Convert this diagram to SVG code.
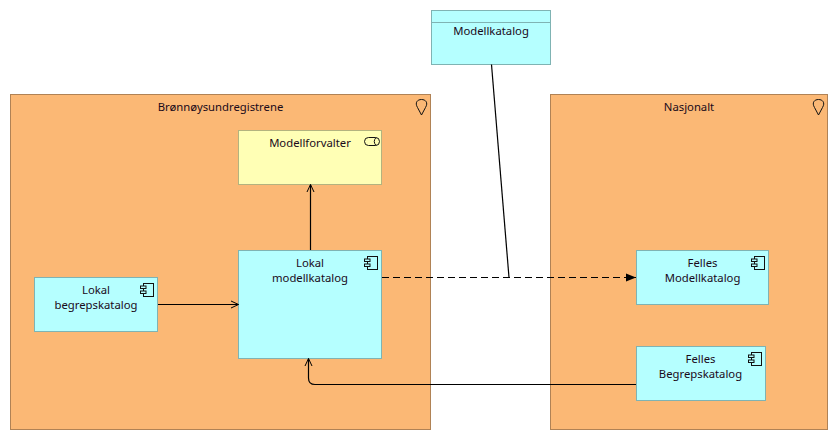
<svg xmlns="http://www.w3.org/2000/svg" width="838" height="440" viewBox="0 0 838 440">
<style>
text{font-family:"Noto Sans","Open Sans","Liberation Sans",sans-serif;font-size:11.3px;fill:#1a0a1a;text-anchor:middle}
.loc{fill:#fbb875;stroke:#b08255;stroke-width:1}
.app{fill:#b5ffff;stroke:#7fb3b3;stroke-width:1}
.biz{fill:#ffffb5;stroke:#b3b37f;stroke-width:1}
.ic{fill:none;stroke:#111;stroke-width:1}
.icf{fill:#b5ffff;stroke:#111;stroke-width:1}
.c{fill:none;stroke:#000;stroke-width:1.2}
</style>
<defs>
<marker id="open" markerUnits="userSpaceOnUse" markerWidth="10" markerHeight="10" refX="8" refY="5" orient="auto"><path d="M0.5 1.500L8 5L0.5 8.500" fill="none" stroke="#000" stroke-width="1"/></marker>
<marker id="fill" markerUnits="userSpaceOnUse" markerWidth="12" markerHeight="10" refX="10" refY="5" orient="auto"><path d="M0 1L10 5L0 9Z" fill="#000"/></marker>
<g id="comp"><rect class="ic" x="3.500" y="0.500" width="10" height="13"/><rect class="icf" x="0.500" y="3" width="5.500" height="2.500"/><rect class="icf" x="0.500" y="8" width="5.500" height="2.500"/></g>
<path id="pin" class="ic" d="M5.500 16L1.500 8.500C-1.500 3.500 1.500 0.500 5.500 0.500C9.500 0.500 12.500 3.500 9.500 8.500Z"/>
</defs>
<g id="brreg"><rect class="loc" x="10.500" y="94.500" width="420" height="335"/><text x="220.500" y="111">Brønnøysundregistrene</text><use href="#pin" x="416" y="99"/></g>
<g id="nasjonalt"><rect class="loc" x="550.500" y="94.500" width="277" height="335"/><text x="689" y="111">Nasjonalt</text><use href="#pin" x="813" y="99"/></g>
<g id="modellkatalog"><rect class="app" x="431.500" y="10.500" width="119" height="54"/><line x1="431.500" y1="22.500" x2="550.500" y2="22.500" stroke="#7fb3b3"/><text x="491" y="35">Modellkatalog</text></g>
<g id="modellforvalter"><rect class="biz" x="238.500" y="130.500" width="143" height="54"/><text x="310" y="147">Modellforvalter</text><rect x="364.500" y="137.500" width="15" height="8" rx="4" fill="none" stroke="#111"/><path class="ic" d="M376 137.500Q372.500 141.500 376 145.500"/></g>
<g id="lokal-modellkatalog"><rect class="app" x="238.500" y="250.500" width="143" height="108"/><text x="310" y="267">Lokal</text><text x="310" y="282">modellkatalog</text><use href="#comp" x="364" y="256"/></g>
<g id="lokal-begrepskatalog"><rect class="app" x="34.500" y="277.500" width="123" height="54"/><text x="96" y="294">Lokal</text><text x="96" y="309">begrepskatalog</text><use href="#comp" x="140" y="283"/></g>
<g id="felles-modellkatalog"><rect class="app" x="636.500" y="250.500" width="132" height="54"/><text x="702.500" y="267">Felles</text><text x="702.500" y="282">Modellkatalog</text><use href="#comp" x="751" y="256"/></g>
<g id="felles-begrepskatalog"><rect class="app" x="636.500" y="346.500" width="129" height="54"/><text x="700.500" y="363">Felles</text><text x="700.500" y="378">Begrepskatalog</text><use href="#comp" x="748" y="352"/></g>
<g id="connectors">
<path class="c" d="M310.500 250V184.500" marker-end="url(#open)"/>
<path class="c" d="M158 304.500H238.500" marker-end="url(#open)"/>
<path class="c" d="M382 277.500H636" stroke-dasharray="7 4" marker-end="url(#fill)"/>
<path class="c" d="M491.500 64.500L509 277.500"/>
<path class="c" d="M636 384.500H315Q308.500 384.500 308.500 378V358.500" marker-end="url(#open)"/>
</g>
</svg>
